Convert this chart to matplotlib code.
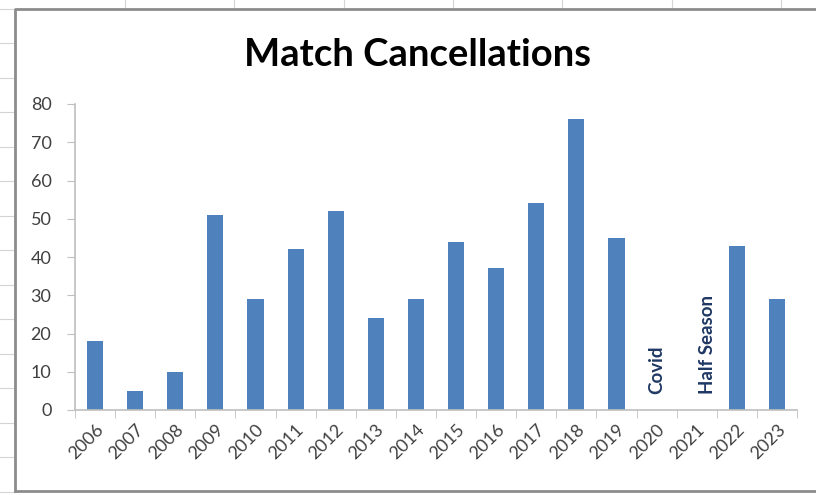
import matplotlib
matplotlib.use("Agg")
import matplotlib.pyplot as plt
from matplotlib.lines import Line2D
import numpy as np

years = ["2006", "2007", "2008", "2009", "2010", "2011", "2012", "2013", "2014",
         "2015", "2016", "2017", "2018", "2019", "2020", "2021", "2022", "2023"]
cancellations = [18, 5, 10, 51, 29, 42, 52, 24, 29, 44, 37, 54, 76, 45, 0, 0, 43, 29]
notes = {"2020": "Covid", "2021": "Half Season"}
y_ticks = [0, 10, 20, 30, 40, 50, 60, 70, 80]

plt.rcParams["font.family"] = ["Lato", "DejaVu Sans"]

fig = plt.figure(figsize=(8.16, 4.95), dpi=100)
W, H = 816, 495

# faint spreadsheet grid behind the chart object
for gx in [125, 234, 344, 453, 562, 672, 781]:
    fig.add_artist(Line2D([gx / W, gx / W], [1, 1 - 9 / H], color="#d4d4d4", lw=0.8))
for gy in np.arange(8.7, 495, 34.5):
    fig.add_artist(Line2D([0, 15 / W], [1 - gy / H, 1 - gy / H], color="#d4d4d4", lw=0.8))

# chart object border
fig.add_artist(Line2D([15 / W, 15 / W, 1.01], [1 - 491 / H, 1 - 9 / H, 1 - 9 / H],
                      color="#8c8c8c", lw=2))
fig.add_artist(Line2D([15 / W, 1.01], [1 - 491 / H, 1 - 491 / H], color="#8c8c8c", lw=2))

ax = fig.add_axes([75 / W, 1 - 410 / H, (797 - 75) / W, (410 - 104) / H])
x = np.arange(len(years))
ax.bar(x, cancellations, width=0.4, color="#4F81BD", zorder=2)

ax.set_xlim(-0.5, len(years) - 0.5)
ax.set_ylim(0, 80)
ax.set_yticks(y_ticks)
ax.tick_params(axis="y", length=6, color="#bfbfbf", labelsize=13,
               labelcolor="#404040", pad=11)
ax.set_xticks(x)
ax.set_xticklabels(years, rotation=45, ha="right", va="top",
                   rotation_mode="anchor", fontsize=13, color="#404040")
ax.tick_params(axis="x", length=0, pad=8)
ax.set_xticks(np.arange(-0.5, len(years), 1), minor=True)
ax.tick_params(axis="x", which="minor", length=6, color="#bfbfbf")

for s in ["top", "right"]:
    ax.spines[s].set_visible(False)
for s in ["left", "bottom"]:
    ax.spines[s].set_color("#bfbfbf")
    ax.spines[s].set_linewidth(1.2)

offsets = {"2020": 0.0, "2021": 0.28}
for yr, label in notes.items():
    i = years.index(yr)
    ax.text(i + offsets[yr], 4.3, label, rotation=90, ha="center", va="bottom",
            fontsize=13.5, fontweight="bold", color="#1F3864")

fig.text(418 / W, 1 - 55 / H, "Match Cancellations", ha="center", va="center",
         fontsize=27.5, fontweight="bold", color="#000000")

fig.savefig("out.png", dpi=100)
